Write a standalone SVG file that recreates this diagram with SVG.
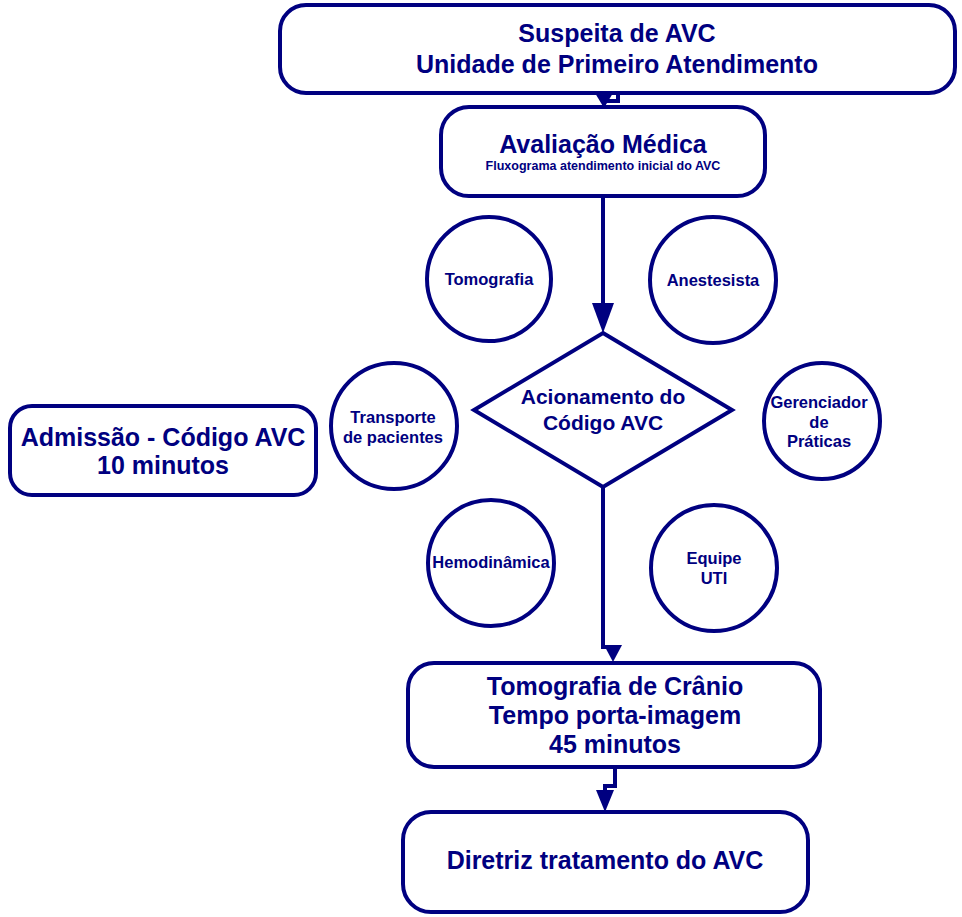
<svg xmlns="http://www.w3.org/2000/svg" width="962" height="917" viewBox="0 0 962 917">
<style>
.b{fill:#fff;stroke:#000080;stroke-width:4}
.t{font-family:"Liberation Sans",Arial,sans-serif;font-weight:bold;fill:#000080;text-anchor:middle}
.l{font-size:25px}
.s{font-size:16.5px}
.c{fill:none;stroke:#000080;stroke-width:4}
.a{fill:#000080}
</style>
<rect width="962" height="917" fill="#fff"/>
<g id="connectors">
<path class="c" d="M618,93 V101 H604 V100"/>
<polygon class="a" points="595,93 613,93 604,108"/>
<path class="c" d="M603,196 V305"/>
<polygon class="a" points="592,303 614,303 603,333"/>
<path class="c" d="M603,487 V647 H613 V650"/>
<polygon class="a" points="604,645 622,645 613,662"/>
<path class="c" d="M615,767 V786 H605 V792"/>
<polygon class="a" points="596,790 614,790 605,812"/>
</g>
<g id="suspeita">
<rect class="b" x="280" y="5" width="675" height="88" rx="26"/>
<text class="t l" x="617" y="42">Suspeita de AVC</text>
<text class="t l" x="617" y="73">Unidade de Primeiro Atendimento</text>
</g>
<g id="avaliacao">
<rect class="b" x="441" y="107" width="324" height="89" rx="28"/>
<text class="t l" x="603" y="153">Avaliação Médica</text>
<text class="t" style="font-size:12.5px" x="603" y="170">Fluxograma atendimento inicial do AVC</text>
</g>
<g id="acionamento">
<polygon class="b" points="603,333 732,410 603,487 474,410"/>
<text class="t" style="font-size:21px" x="603" y="404">Acionamento do</text>
<text class="t" style="font-size:21px" x="603" y="430">Código AVC</text>
</g>
<g id="tomografia-cranio">
<rect class="b" x="408" y="663" width="412" height="104" rx="26"/>
<text class="t l" x="615" y="695">Tomografia de Crânio</text>
<text class="t l" x="615" y="724">Tempo porta-imagem</text>
<text class="t l" x="615" y="753">45 minutos</text>
</g>
<g id="diretriz">
<rect class="b" x="403" y="812" width="405" height="100" rx="28"/>
<text class="t l" x="605" y="869">Diretriz tratamento do AVC</text>
</g>
<g id="admissao">
<rect class="b" x="10" y="406" width="306" height="89" rx="22"/>
<text class="t l" x="163" y="446">Admissão - Código AVC</text>
<text class="t l" x="163" y="474">10 minutos</text>
</g>
<g id="tomografia">
<circle class="b" cx="489" cy="279" r="62"/>
<text class="t s" x="489" y="285">Tomografia</text>
</g>
<g id="anestesista">
<circle class="b" cx="713" cy="280" r="63"/>
<text class="t s" x="713" y="286">Anestesista</text>
</g>
<g id="transporte">
<circle class="b" cx="394" cy="426" r="63"/>
<text class="t s" x="393" y="423">Transporte</text>
<text class="t s" x="393" y="443">de pacientes</text>
</g>
<g id="gerenciador">
<circle class="b" cx="822" cy="421" r="58"/>
<text class="t s" x="819" y="408">Gerenciador</text>
<text class="t s" x="819" y="428">de</text>
<text class="t s" x="819" y="447">Práticas</text>
</g>
<g id="hemodinamica">
<circle class="b" cx="491" cy="563" r="63"/>
<text class="t s" x="491" y="568">Hemodinâmica</text>
</g>
<g id="equipe-uti">
<circle class="b" cx="714" cy="568" r="63"/>
<text class="t s" x="714" y="564">Equipe</text>
<text class="t s" x="714" y="584">UTI</text>
</g>
</svg>
